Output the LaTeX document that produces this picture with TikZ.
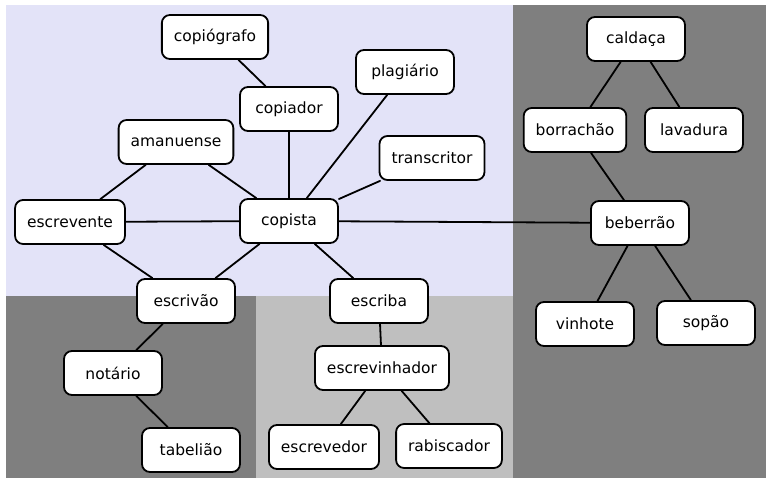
\documentclass[tikz,border=0pt]{standalone}
\usepackage{xcolor}
\usepackage{fontspec}
\usepackage{tikz}
\setmainfont{DejaVu Sans}
\definecolor{eeeefa}{rgb}{0.89,0.89,0.973}
\definecolor{cinzaesc}{rgb}{0.498,0.498,0.498}
\definecolor{cinzacla}{rgb}{0.749,0.749,0.749}
\tikzset{palavra/.style={draw=black,line width=1.8pt,fill=white,rounded corners=8pt,
    minimum width=98pt,minimum height=44pt,inner xsep=12pt,
    font=\fontsize{15.5}{18}\selectfont}}

\begin{document}
\begin{tikzpicture}[line cap=round,line join=round,x=1pt,y=-1pt]
            \useasboundingbox (0,0) rectangle (766,478);
            \fill [color=eeeefa] (6,5) rectangle (513,296);
            \fill [color=cinzaesc] (513,5) rectangle (766,478);
            \fill [color=cinzaesc] (6,296) rectangle (256,478);
            \fill [color=cinzacla] (256,296) rectangle (513,478);
            \node [palavra] (copiografo) at (215,37) {copiógrafo};
            \node [palavra] (copiador) at (289,109) {copiador};
            \node [palavra] (plagiario) at (405,72) {plagiário};
            \node [palavra] (amanuense) at (176,142) {amanuense};
            \node [palavra] (transcritor) at (432,158) {transcritor};
            \node [palavra] (escrevente) at (70,222) {escrevente};
            \node [palavra] (copista) at (289,221) {copista};
            \node [palavra] (escrivao) at (186,301) {escrivão};
            \node [palavra] (escriba) at (379,301) {escriba};
            \node [palavra] (notario) at (113,373) {notário};
            \node [palavra] (tabeliao) at (191,450) {tabelião};
            \node [palavra] (escrevinhador) at (382,368) {escrevinhador};
            \node [palavra] (escrevedor) at (324,447) {escrevedor};
            \node [palavra] (rabiscador) at (449,446) {rabiscador};
            \node [palavra] (caldaca) at (636,39) {caldaça};
            \node [palavra] (borrachao) at (575,130) {borrachão};
            \node [palavra] (lavadura) at (694,130) {lavadura};
            \node [palavra] (beberrao) at (640,223) {beberrão};
            \node [palavra] (vinhote) at (585,324) {vinhote};
            \node [palavra] (sopao) at (706,323) {sopão};
            \begin{scope}[line width=1.8pt]
            \draw (copiografo) -- (copiador);
            \draw (copiador) -- (copista);
            \draw (plagiario) -- (copista);
            \draw (transcritor) -- (copista);
            \draw (amanuense) -- (copista);
            \draw (amanuense) -- (escrevente);
            \draw (escrevente) -- (copista);
            \draw (escrevente) -- (escrivao);
            \draw (copista) -- (escrivao);
            \draw (copista) -- (escriba);
            \draw (copista) -- (beberrao);
            \draw (escrivao) -- (notario);
            \draw (notario) -- (tabeliao);
            \draw (escriba) -- (escrevinhador);
            \draw (escrevinhador) -- (escrevedor);
            \draw (escrevinhador) -- (rabiscador);
            \draw (caldaca) -- (borrachao);
            \draw (caldaca) -- (lavadura);
            \draw (borrachao) -- (beberrao);
            \draw (beberrao) -- (vinhote);
            \draw (beberrao) -- (sopao);
            \end{scope}
\end{tikzpicture}
\end{document}
